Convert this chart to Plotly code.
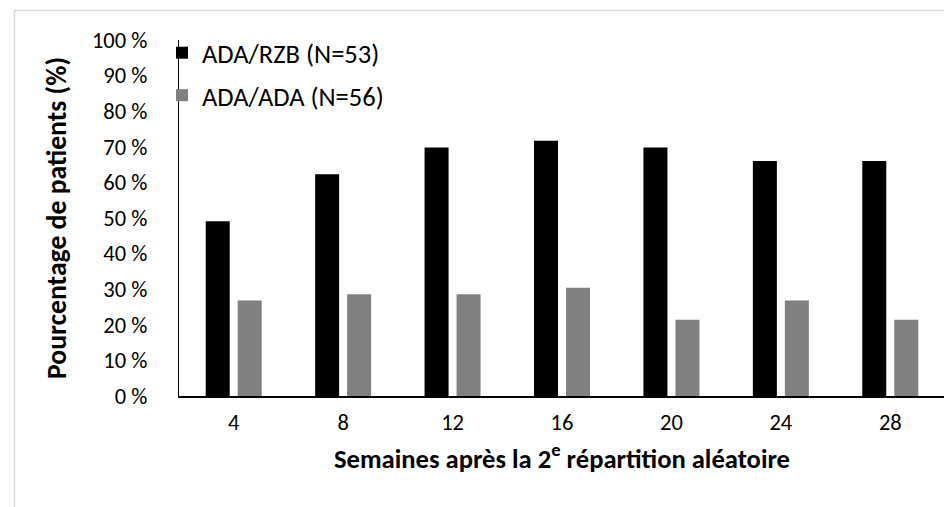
import plotly.graph_objects as go

weeks = ["4", "8", "12", "16", "20", "24", "28"]
ada_rzb = [49.1, 62.3, 69.8, 71.7, 69.8, 66.0, 66.0]
ada_ada = [26.8, 28.6, 28.6, 30.4, 21.4, 26.8, 21.4]
series_names = ["ADA/RZB (N=53)", "ADA/ADA (N=56)"]
y_ticks = [0, 10, 20, 30, 40, 50, 60, 70, 80, 90, 100]
y_tick_labels = ["0 %", "10 %", "20 %", "30 %", "40 %", "50 %",
                 "60 %", "70 %", "80 %", "90 %", "100 %"]

FONT = "Carlito, Calibri, Lato, sans-serif"

fig = go.Figure()
fig.add_trace(go.Bar(x=weeks, y=ada_rzb, name=series_names[0],
                     marker=dict(color="#000000", line=dict(width=0)),
                     legendgroup="a"))
fig.add_trace(go.Bar(x=weeks, y=ada_ada, name=series_names[1],
                     marker=dict(color="#808080", line=dict(width=0)),
                     legendgroup="b"))

L, R, T, B = 171, 15, 32, 119
W, H = 952, 507
pw, ph = W - L - R, H - T - B

def px(x):
    return (x - L) / pw

def py(y):
    return (H - B - y) / ph

fig.update_layout(
    width=W, height=H,
    margin=dict(l=L, r=R, t=T, b=B),
    paper_bgcolor="white", plot_bgcolor="white",
    barmode="group", bargap=0.415, bargroupgap=0.25,
    font=dict(family=FONT, size=22, color="#000000"),
    showlegend=True,
    legend=dict(x=px(154), y=py(21), xanchor="left", yanchor="top",
                bgcolor="rgba(0,0,0,0)", font=dict(size=26.5),
                traceorder="grouped", tracegroupgap=5,
                itemwidth=30),
    xaxis=dict(type="category", showline=True, linecolor="#000000", linewidth=2,
               ticks="", showgrid=False, zeroline=False,
               ticklabelstandoff=5,
               tickfont=dict(size=22.5),
               title=dict(text="<b>Semaines après la 2<sup>e</sup> répartition aléatoire</b>",
                          font=dict(size=26.6), standoff=14)),
    yaxis=dict(range=[0, 100], tickmode="array", tickvals=y_ticks,
               ticktext=y_tick_labels,
               showline=True, linecolor="#000000", linewidth=1.3,
               ticks="", showgrid=False, zeroline=False,
               ticklabelstandoff=26,
               tickfont=dict(size=22.5),
               title=dict(text="<b>Pourcentage de patients (%)</b>",
                          font=dict(size=27.7), standoff=17)),
    shapes=[
        dict(type="line", xref="paper", yref="paper",
             x0=px(6.5), x1=px(960), y0=py(2.5), y1=py(2.5),
             line=dict(color="#d9d9d9", width=1.5)),
        dict(type="line", xref="paper", yref="paper",
             x0=px(6.5), x1=px(6.5), y0=py(2.5), y1=py(520),
             line=dict(color="#d9d9d9", width=1.5)),
    ],
)

fig.write_html("out.html")
